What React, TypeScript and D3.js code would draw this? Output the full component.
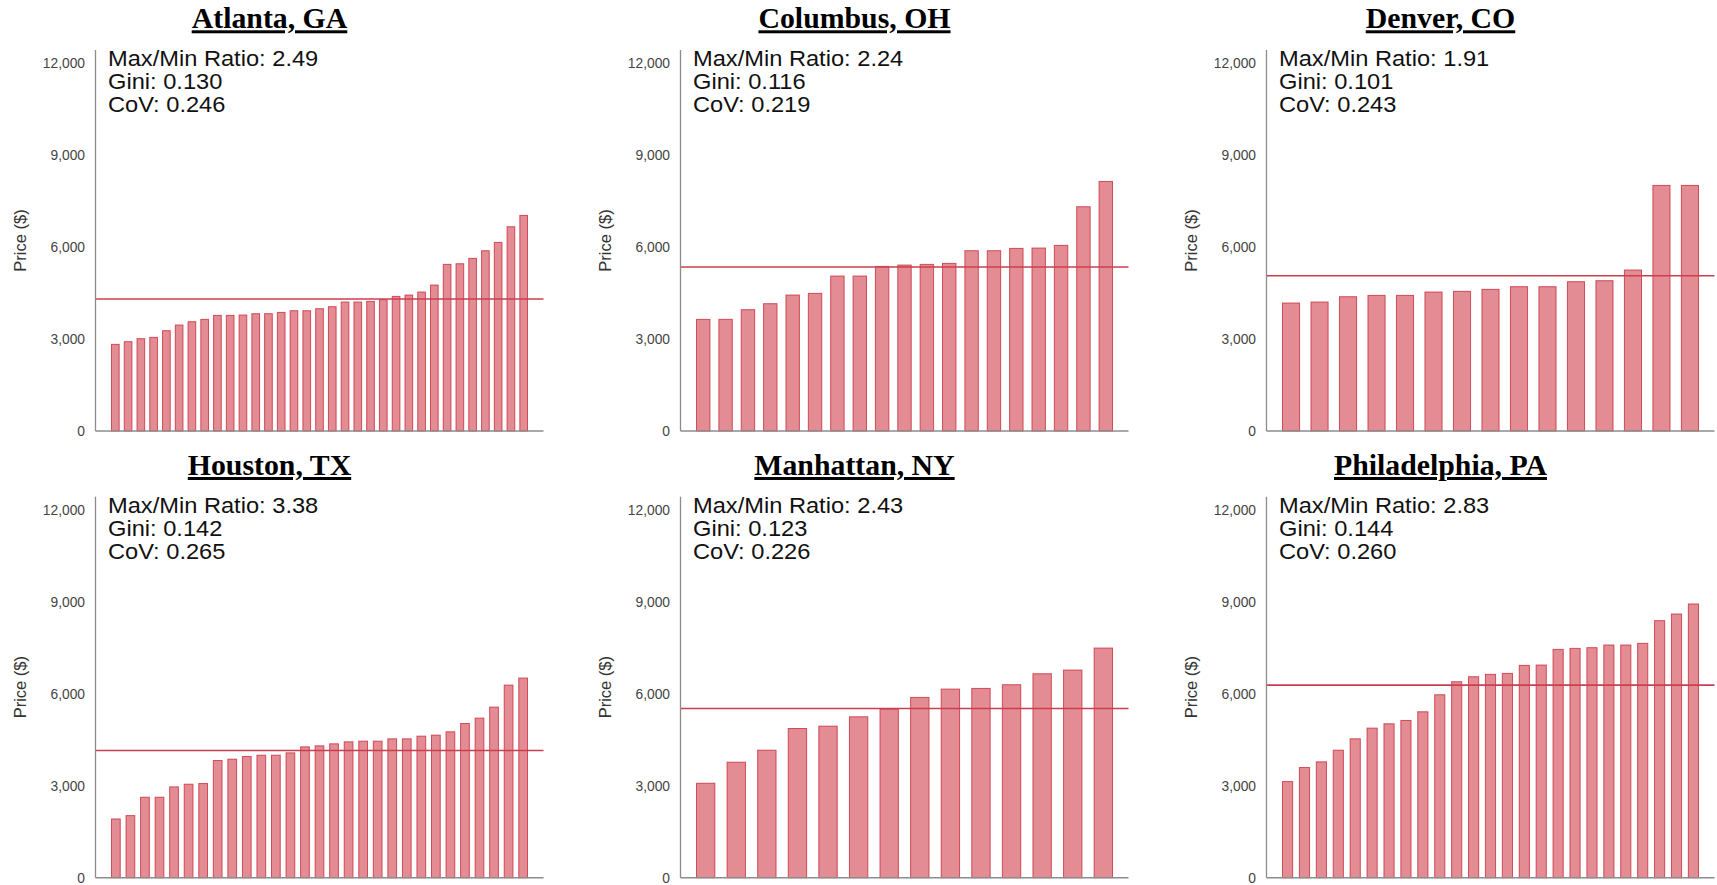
import React from "react";
import * as d3 from "d3";

const CITIES = ["Atlanta, GA", "Columbus, OH", "Denver, CO", "Houston, TX", "Manhattan, NY", "Philadelphia, PA"];

const atlantaPrices = [2829, 2916, 3014, 3057, 3275, 3460, 3568, 3645, 3775, 3775, 3786, 3830, 3830, 3873, 3927, 3927, 3993, 4058, 4210, 4210, 4232, 4286, 4395, 4439, 4537, 4765, 5440, 5461, 5636, 5886, 6158, 6669, 7039];
const columbusPrices = [3645, 3645, 3960, 4156, 4439, 4493, 5059, 5059, 5374, 5418, 5440, 5472, 5886, 5886, 5962, 5973, 6060, 7322, 8148];
const denverPrices = [4178, 4210, 4384, 4428, 4428, 4537, 4559, 4624, 4711, 4711, 4874, 4907, 5255, 8018, 8018];
const houstonPrices = [1918, 2027, 2627, 2627, 2965, 3052, 3074, 3826, 3869, 3956, 4000, 4000, 4076, 4272, 4305, 4371, 4436, 4458, 4458, 4534, 4534, 4621, 4654, 4763, 5035, 5210, 5569, 6289, 6518];
const manhattanPrices = [3084, 3771, 4163, 4872, 4948, 5253, 5504, 5886, 6158, 6180, 6300, 6659, 6779, 7498];
const philadelphiaPrices = [3139, 3597, 3782, 4163, 4534, 4883, 5025, 5134, 5417, 5973, 6398, 6561, 6638, 6670, 6932, 6943, 7455, 7488, 7510, 7597, 7597, 7651, 8392, 8610, 8937];

const PRICES = [atlantaPrices, columbusPrices, denverPrices, houstonPrices, manhattanPrices, philadelphiaPrices];
const MEAN_PRICES = [4308, 5353, 5070, 4153, 5526, 6289];
const MAX_MIN_RATIO = ["2.49", "2.24", "1.91", "3.38", "2.43", "2.83"];
const GINI = ["0.130", "0.116", "0.101", "0.142", "0.123", "0.144"];
const COV = ["0.246", "0.219", "0.243", "0.265", "0.226", "0.260"];
const Y_TICKS = [0, 3000, 6000, 9000, 12000];
const Y_MAX = 12440;

const COL_X = [95.5, 680.5, 1266.5];
const ROW_TOP = [50, 496.7];
const PLOT_W = 448;
const PLOT_H = 381;
const INNER_PAD = 16;

const fmt = d3.format(",");

function Panel({ idx }: { idx: number }) {
  const col = idx % 3;
  const row = Math.floor(idx / 3);
  const x0 = COL_X[col];
  const top = ROW_TOP[row];
  const bottom = top + PLOT_H;
  const data = PRICES[idx];
  const x = d3
    .scaleBand<number>()
    .domain(d3.range(data.length))
    .range([x0 + INNER_PAD, x0 + PLOT_W - INNER_PAD])
    .paddingInner(0.4)
    .paddingOuter(0);
  const y = d3.scaleLinear().domain([0, Y_MAX]).range([bottom, top]);
  const mean = MEAN_PRICES[idx];
  const titleY = row === 0 ? 28.3 : 475;
  const statsX = x0 + 12.5;
  const statsY = top + 16.3;
  return (
    <g>
      <text
        x={x0 + 174}
        y={titleY}
        textAnchor="middle"
        style={{ fontFamily: "'Liberation Serif', 'Times New Roman', serif", fontWeight: "bold", fontSize: 29.8, textDecoration: "underline" }}
        fill="#000"
      >
        {CITIES[idx]}
      </text>
      {Y_TICKS.map((t) => (
        <text
          key={t}
          x={x0 - 10.5}
          y={y(t)}
          dy="0.35em"
          textAnchor="end"
          style={{ fontFamily: "'Liberation Sans', Arial, sans-serif", fontSize: 13.8 }}
          fill="#444"
        >
          {fmt(t)}
        </text>
      ))}
      <text
        transform={`translate(${x0 - 70},${(top + bottom) / 2}) rotate(-90)`}
        textAnchor="middle"
        style={{ fontFamily: "'Liberation Sans', Arial, sans-serif", fontSize: 16.5 }}
        fill="#333"
      >
        Price ($)
      </text>
      {data.map((v, i) => (
        <rect
          key={i}
          x={x(i)}
          y={y(v)}
          width={x.bandwidth()}
          height={y(0) - y(v)}
          fill="rgba(205,45,60,0.55)"
          stroke="rgba(200,45,60,0.8)"
          strokeWidth={1}
        />
      ))}
      <line x1={x0} x2={x0 + PLOT_W} y1={y(mean)} y2={y(mean)} stroke="#c8404f" strokeWidth={1.6} />
      <line x1={x0} x2={x0} y1={top} y2={bottom} stroke="#8c8c8c" strokeWidth={1.3} />
      <line x1={x0} x2={x0 + PLOT_W} y1={bottom} y2={bottom} stroke="#8c8c8c" strokeWidth={1.6} />
      <g
        transform={`translate(${statsX},${statsY}) scale(1.1,1)`}
        style={{ fontFamily: "'Liberation Sans', Arial, sans-serif", fontSize: 21.5 }}
        fill="#111"
      >
        <text x={0} y={0}>{`Max/Min Ratio: ${MAX_MIN_RATIO[idx]}`}</text>
        <text x={0} y={23}>{`Gini: ${GINI[idx]}`}</text>
        <text x={0} y={46}>{`CoV: ${COV[idx]}`}</text>
      </g>
    </g>
  );
}

export default function App() {
  return (
    <svg
      width={1717}
      height={885}
      style={{ position: "absolute", left: 0, top: 0, background: "#fff" }}
    >
      {CITIES.map((_, i) => (
        <Panel key={i} idx={i} />
      ))}
    </svg>
  );
}
